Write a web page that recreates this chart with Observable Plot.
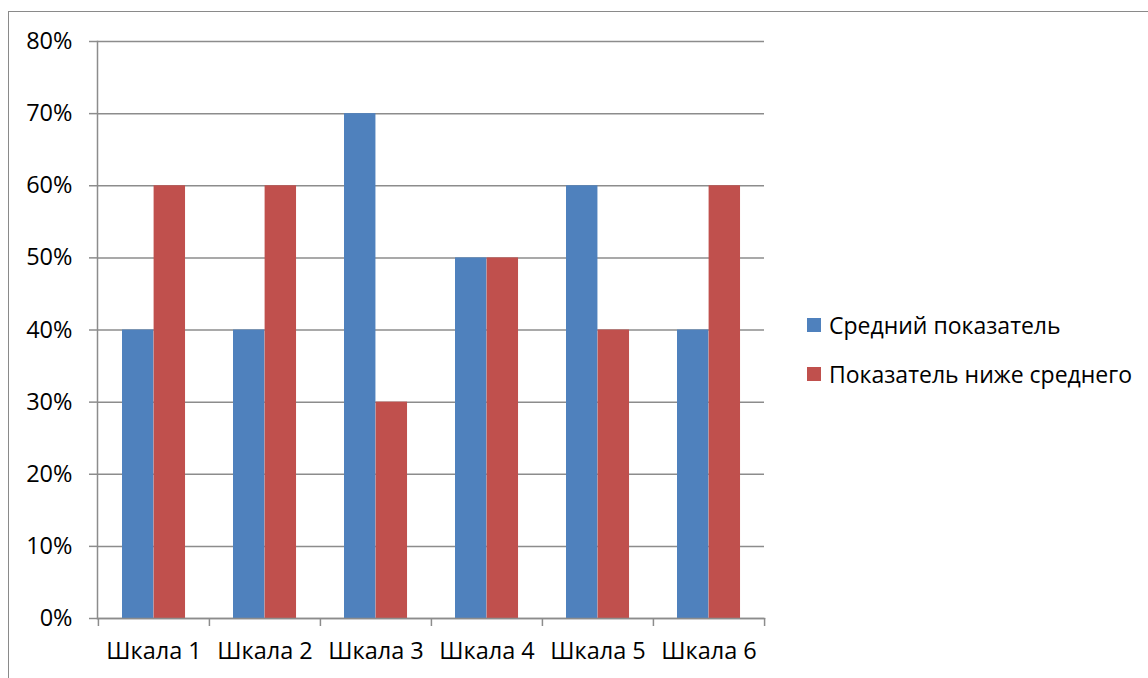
<!DOCTYPE html>
<html><head><meta charset="utf-8">
<script src="https://cdn.jsdelivr.net/npm/d3@7"></script>
<script src="https://cdn.jsdelivr.net/npm/@observablehq/plot@0.6"></script>
<style>
body{margin:0;background:#fff;}
#wrap{position:relative;width:1148px;height:678px;overflow:hidden;font-family:"Open Sans",sans-serif;background:#fff;}
#chart{position:absolute;left:0;top:0;}
#frame{position:absolute;left:8px;top:11px;width:1300px;height:900px;border:1.5px solid #8a8a8a;pointer-events:none;}
#legend{position:absolute;left:807px;top:311px;font-size:23px;color:#000;}
.row{display:flex;align-items:center;height:27px;margin-bottom:22px;white-space:nowrap;}
.sw{width:14px;height:14px;margin-right:8px;flex:none;}
</style></head><body>
<div id="wrap"><div id="chart"></div><div id="legend"></div><div id="frame"></div></div>
<script>
const categories = ["Шкала 1","Шкала 2","Шкала 3","Шкала 4","Шкала 5","Шкала 6"];
const series = ["Средний показатель","Показатель ниже среднего"];
const avgValues = [0.4,0.4,0.7,0.5,0.6,0.4];
const belowValues = [0.6,0.6,0.3,0.5,0.4,0.6];
const colors = ["#4F81BD","#C0504D"];
const yTicks = [0,0.1,0.2,0.3,0.4,0.5,0.6,0.7,0.8];

const W = 1148, H = 678;
const mL = 97, mR = 384, mT = 41, mB = 60;
const step = (W - mL - mR) / categories.length;
const grey = "#8c8c8c";

const avgRows = categories.map((c,i)=>({cat:c, series:series[0], value:avgValues[i]}));
const belowRows = categories.map((c,i)=>({cat:c, series:series[1], value:belowValues[i]}));

const chart = Plot.plot({
  width: W, height: H,
  marginLeft: mL, marginRight: mR, marginTop: mT, marginBottom: mB,
  style: {fontFamily: "'Open Sans', sans-serif", fontSize: "23.5px", color: "#000", background: "transparent"},
  x: {domain: categories, padding: 0},
  y: {domain: [0, 0.8]},
  marks: [
    Plot.gridY(yTicks, {stroke: grey, strokeOpacity: 1, strokeWidth: 1.5}),
    Plot.barY(avgRows, {x: "cat", y: "value", fill: colors[0], insetLeft: 24, insetRight: step - 24 - 31.6}),
    Plot.barY(belowRows, {x: "cat", y: "value", fill: colors[1], insetLeft: 24 + 31.6, insetRight: step - 24 - 63.2}),
    Plot.frame({anchor: "left", stroke: grey, strokeWidth: 1.5}),
    Plot.frame({anchor: "bottom", stroke: grey, strokeWidth: 1.5}),
    Plot.ruleX(categories, {x: d => d, dx: -step/2, y1: 0, y2: 0, insetBottom: -8, stroke: grey, strokeWidth: 1.5}),
    Plot.ruleX(categories.slice(-1), {x: d => d, dx: step/2, y1: 0, y2: 0, insetBottom: -8, stroke: grey, strokeWidth: 1.5}),
    Plot.axisY({ticks: yTicks, tickFormat: d3.format(".0%"), tickSize: 8, tickPadding: 17, stroke: grey, strokeWidth: 1.5, strokeOpacity: 1, fontSize: 23.5, label: null}),
    Plot.axisX({tickSize: 0, tickPadding: 24, fontSize: 23.5, label: null})
  ]
});
document.getElementById("chart").appendChild(chart);

const legend = document.getElementById("legend");
series.forEach((s,i)=>{
  const row = document.createElement("div");
  row.className = "row";
  const sw = document.createElement("div");
  sw.className = "sw"; sw.style.background = colors[i];
  const t = document.createElement("span");
  t.textContent = s;
  row.appendChild(sw); row.appendChild(t);
  legend.appendChild(row);
});
</script>
</body></html>
